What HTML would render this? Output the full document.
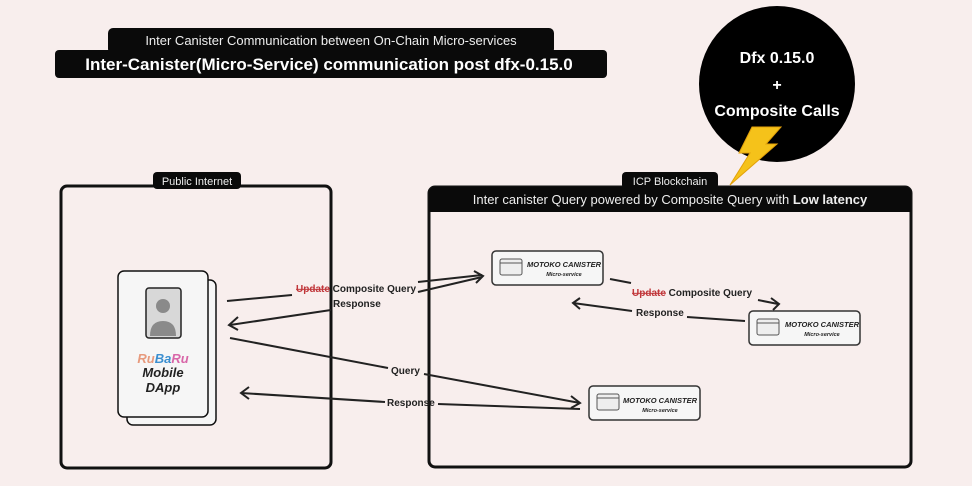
<!DOCTYPE html>
<html><head><meta charset="utf-8"><style>
body{margin:0;background:#f8eeed;}
svg{display:block;font-family:"Liberation Sans",sans-serif;}
</style></head><body>
<svg width="972" height="486" viewBox="0 0 972 486" xmlns="http://www.w3.org/2000/svg">
<rect width="972" height="486" fill="#f8eeed"/>
<!-- title -->
<rect x="108" y="28" width="446" height="26" rx="5" fill="#0a0a0a"/>
<text x="331" y="45" font-size="13" fill="#eee" text-anchor="middle">Inter Canister Communication between On-Chain Micro-services</text>
<rect x="55" y="50" width="552" height="28" rx="4" fill="#0a0a0a"/>
<text x="329" y="70" font-size="17" font-weight="bold" fill="#fff" text-anchor="middle">Inter-Canister(Micro-Service) communication post dfx-0.15.0</text>
<!-- circle -->
<circle cx="777" cy="84" r="78" fill="#000"/>
<text x="777" y="63" font-size="16" font-weight="bold" fill="#fff" text-anchor="middle">Dfx 0.15.0</text>
<text x="777" y="90" font-size="16" font-weight="bold" fill="#fff" text-anchor="middle">+</text>
<text x="777" y="116" font-size="16" font-weight="bold" fill="#fff" text-anchor="middle">Composite Calls</text>
<polygon points="752,127 781,127 766,144 777,144 730,185 750,153 739,153" fill="#f5c21a" stroke="#e3a10a" stroke-width="1"/>
<!-- left panel -->
<rect x="61" y="186" width="270" height="282" rx="6" fill="none" stroke="#111" stroke-width="3"/>
<rect x="153" y="172" width="88" height="17" rx="4" fill="#0a0a0a"/>
<text x="197" y="185" font-size="11" fill="#eee" text-anchor="middle">Public Internet</text>
<!-- right panel -->
<rect x="429" y="187" width="482" height="280" rx="6" fill="none" stroke="#111" stroke-width="3"/>
<path d="M429,212 V193 a6,6 0 0 1 6,-6 H905 a6,6 0 0 1 6,6 V212 Z" fill="#0a0a0a"/>
<rect x="622" y="172" width="96" height="17" rx="4" fill="#0a0a0a"/>
<text x="670" y="185" font-size="11" fill="#eee" text-anchor="middle">ICP Blockchain</text>
<text x="670" y="204" font-size="13" fill="#eee" text-anchor="middle">Inter canister Query powered by Composite Query with <tspan font-weight="bold">Low latency</tspan></text>
<!-- phone -->
<rect x="127" y="280" width="89" height="145" rx="6" fill="#f6f6f6" stroke="#111" stroke-width="1.5"/>
<rect x="118" y="271" width="90" height="146" rx="6" fill="#f6f6f6" stroke="#111" stroke-width="1.5"/>
<rect x="146" y="288" width="35" height="50" rx="3" fill="#d8d8d8" stroke="#222" stroke-width="1.5"/>
<circle cx="163" cy="306" r="7" fill="#8a8a8a"/>
<path d="M150,336 q0,-15 13,-15 q13,0 13,15 Z" fill="#8a8a8a"/>
<text x="163" y="363" font-size="13" font-weight="bold" font-style="italic" text-anchor="middle"><tspan fill="#e79a7d">Ru</tspan><tspan fill="#3b8fd0">Ba</tspan><tspan fill="#d866a8">Ru</tspan></text>
<text x="163" y="377" font-size="13" font-weight="bold" font-style="italic" fill="#222" text-anchor="middle">Mobile</text>
<text x="163" y="392" font-size="13" font-weight="bold" font-style="italic" fill="#222" text-anchor="middle">DApp</text>
<!-- canisters -->
<g font-size="7.5" font-weight="bold" font-style="italic" fill="#222" text-anchor="middle">
<rect x="492" y="251" width="111" height="34" rx="4" fill="#f6f6f6" stroke="#333" stroke-width="1.5"/>
<rect x="500" y="259" width="22" height="16" rx="2" fill="#eee" stroke="#555"/><line x1="500" y1="263" x2="522" y2="263" stroke="#555"/>
<text x="564" y="267">MOTOKO CANISTER</text><text x="564" y="276" font-size="5.5">Micro-service</text>
<rect x="749" y="311" width="111" height="34" rx="4" fill="#f6f6f6" stroke="#333" stroke-width="1.5"/>
<rect x="757" y="319" width="22" height="16" rx="2" fill="#eee" stroke="#555"/><line x1="757" y1="323" x2="779" y2="323" stroke="#555"/>
<text x="822" y="327">MOTOKO CANISTER</text><text x="822" y="336" font-size="5.5">Micro-service</text>
<rect x="589" y="386" width="111" height="34" rx="4" fill="#f6f6f6" stroke="#333" stroke-width="1.5"/>
<rect x="597" y="394" width="22" height="16" rx="2" fill="#eee" stroke="#555"/><line x1="597" y1="398" x2="619" y2="398" stroke="#555"/>
<text x="660" y="403">MOTOKO CANISTER</text><text x="660" y="412" font-size="5.5">Micro-service</text>
</g>
<!-- arrows -->
<g stroke="#222" stroke-width="2" fill="none">
<line x1="227" y1="301" x2="292" y2="295"/>
<line x1="418" y1="282" x2="482" y2="275"/>
<line x1="418" y1="292" x2="482" y2="277"/>
<path d="M474,271 L483,276 L476,283"/>
<line x1="331" y1="310" x2="230" y2="325"/>
<path d="M238,317 L229,325 L238,330"/>
<line x1="230" y1="338" x2="388" y2="368"/>
<line x1="424" y1="374" x2="580" y2="403"/>
<path d="M571,396 L580,403 L571,408"/>
<line x1="580" y1="409" x2="438" y2="404"/>
<line x1="385" y1="402" x2="241" y2="393"/>
<path d="M249,387 L241,393 L249,399"/>
<line x1="610" y1="279" x2="631" y2="283"/>
<line x1="758" y1="300" x2="778" y2="304"/>
<path d="M771,298 L779,304 L773,310"/>
<line x1="745" y1="321" x2="687" y2="317"/>
<line x1="632" y1="311" x2="573" y2="303"/>
<path d="M580,298 L573,303 L580,309"/>
</g>
<g font-size="10" font-weight="bold" fill="#222">
<text x="296" y="292"><tspan fill="#c0363a" text-decoration="line-through">Update</tspan> Composite Query</text>
<text x="333" y="307">Response</text>
<text x="391" y="374">Query</text>
<text x="387" y="406">Response</text>
<text x="632" y="296"><tspan fill="#c0363a" text-decoration="line-through">Update</tspan> Composite Query</text>
<text x="636" y="316">Response</text>
</g>
</svg>
</body></html>
